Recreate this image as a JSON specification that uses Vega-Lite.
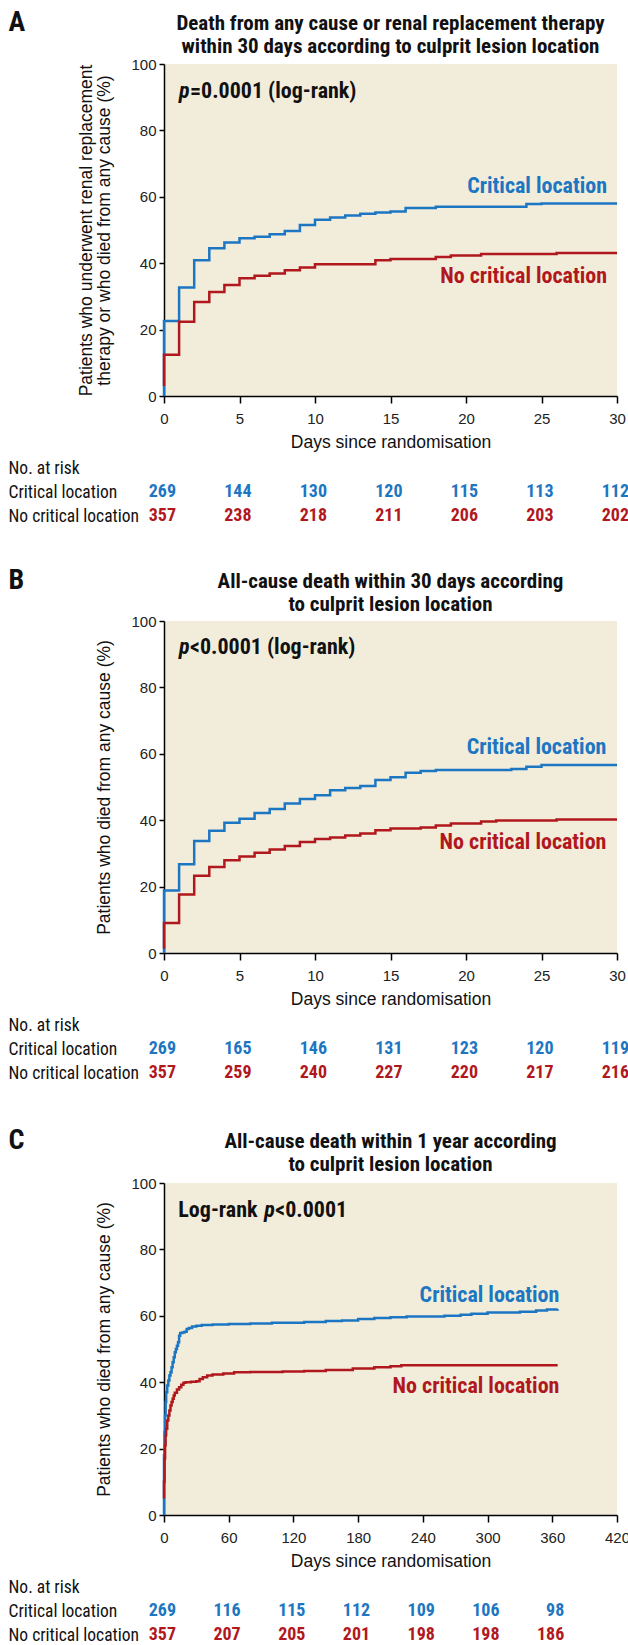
{
  "$schema": "https://vega.github.io/schema/vega-lite/v6.json",
  "background": "white",
  "padding": {"left": 8, "top": 8, "right": 0, "bottom": 0},
  "autosize": {"type": "pad"},
  "bounds": "flush",
  "spacing": 77,
  "config": {
    "font": "Liberation Sans",
    "view": {"stroke": null},
    "axis": {"grid": false}
  },
  "datasets": {
    "kmA": [
      {"group": "Critical location", "day": 0, "pct": 0},
      {"group": "Critical location", "day": 0, "pct": 22.6},
      {"group": "Critical location", "day": 1, "pct": 32.7},
      {"group": "Critical location", "day": 2, "pct": 40.9},
      {"group": "Critical location", "day": 3, "pct": 44.5},
      {"group": "Critical location", "day": 4, "pct": 46.2},
      {"group": "Critical location", "day": 5, "pct": 47.5},
      {"group": "Critical location", "day": 6, "pct": 48.0},
      {"group": "Critical location", "day": 7, "pct": 48.7},
      {"group": "Critical location", "day": 8, "pct": 49.7},
      {"group": "Critical location", "day": 9, "pct": 51.5},
      {"group": "Critical location", "day": 10, "pct": 53.1},
      {"group": "Critical location", "day": 11, "pct": 53.8},
      {"group": "Critical location", "day": 12, "pct": 54.4},
      {"group": "Critical location", "day": 13, "pct": 54.9},
      {"group": "Critical location", "day": 14, "pct": 55.3},
      {"group": "Critical location", "day": 15, "pct": 55.6},
      {"group": "Critical location", "day": 16, "pct": 56.6},
      {"group": "Critical location", "day": 18, "pct": 57.0},
      {"group": "Critical location", "day": 24, "pct": 57.8},
      {"group": "Critical location", "day": 25, "pct": 58.0},
      {"group": "Critical location", "day": 30, "pct": 58.0},
      {"group": "No critical location", "day": 0, "pct": 3.0},
      {"group": "No critical location", "day": 0, "pct": 12.4},
      {"group": "No critical location", "day": 1, "pct": 22.4},
      {"group": "No critical location", "day": 2, "pct": 28.3},
      {"group": "No critical location", "day": 3, "pct": 31.3},
      {"group": "No critical location", "day": 4, "pct": 33.4},
      {"group": "No critical location", "day": 5, "pct": 35.5},
      {"group": "No critical location", "day": 6, "pct": 36.2},
      {"group": "No critical location", "day": 7, "pct": 36.9},
      {"group": "No critical location", "day": 8, "pct": 37.9},
      {"group": "No critical location", "day": 9, "pct": 38.7},
      {"group": "No critical location", "day": 10, "pct": 39.7},
      {"group": "No critical location", "day": 14, "pct": 40.9},
      {"group": "No critical location", "day": 15, "pct": 41.3},
      {"group": "No critical location", "day": 18, "pct": 41.9},
      {"group": "No critical location", "day": 19, "pct": 42.3},
      {"group": "No critical location", "day": 21, "pct": 42.8},
      {"group": "No critical location", "day": 26, "pct": 43.1},
      {"group": "No critical location", "day": 30, "pct": 43.1}
    ],
    "kmB": [
      {"group": "Critical location", "day": 0, "pct": 0},
      {"group": "Critical location", "day": 0, "pct": 18.8},
      {"group": "Critical location", "day": 1, "pct": 26.7},
      {"group": "Critical location", "day": 2, "pct": 33.7},
      {"group": "Critical location", "day": 3, "pct": 36.8},
      {"group": "Critical location", "day": 4, "pct": 39.2},
      {"group": "Critical location", "day": 5, "pct": 40.4},
      {"group": "Critical location", "day": 6, "pct": 42.2},
      {"group": "Critical location", "day": 7, "pct": 43.4},
      {"group": "Critical location", "day": 8, "pct": 45.0},
      {"group": "Critical location", "day": 9, "pct": 46.4},
      {"group": "Critical location", "day": 10, "pct": 47.5},
      {"group": "Critical location", "day": 11, "pct": 49.0},
      {"group": "Critical location", "day": 12, "pct": 49.7},
      {"group": "Critical location", "day": 13, "pct": 50.3},
      {"group": "Critical location", "day": 14, "pct": 52.1},
      {"group": "Critical location", "day": 15, "pct": 52.9},
      {"group": "Critical location", "day": 16, "pct": 54.3},
      {"group": "Critical location", "day": 17, "pct": 54.8},
      {"group": "Critical location", "day": 18, "pct": 55.1},
      {"group": "Critical location", "day": 23, "pct": 55.4},
      {"group": "Critical location", "day": 24, "pct": 56.1},
      {"group": "Critical location", "day": 25, "pct": 56.6},
      {"group": "Critical location", "day": 30, "pct": 56.6},
      {"group": "No critical location", "day": 0, "pct": 1.3},
      {"group": "No critical location", "day": 0, "pct": 9.0},
      {"group": "No critical location", "day": 1, "pct": 17.6},
      {"group": "No critical location", "day": 2, "pct": 23.3},
      {"group": "No critical location", "day": 3, "pct": 25.9},
      {"group": "No critical location", "day": 4, "pct": 27.9},
      {"group": "No critical location", "day": 5, "pct": 29.1},
      {"group": "No critical location", "day": 6, "pct": 30.2},
      {"group": "No critical location", "day": 7, "pct": 31.2},
      {"group": "No critical location", "day": 8, "pct": 32.2},
      {"group": "No critical location", "day": 9, "pct": 33.4},
      {"group": "No critical location", "day": 10, "pct": 34.3},
      {"group": "No critical location", "day": 11, "pct": 34.8},
      {"group": "No critical location", "day": 12, "pct": 35.4},
      {"group": "No critical location", "day": 13, "pct": 36.0},
      {"group": "No critical location", "day": 14, "pct": 37.0},
      {"group": "No critical location", "day": 15, "pct": 37.5},
      {"group": "No critical location", "day": 17, "pct": 37.8},
      {"group": "No critical location", "day": 18, "pct": 38.4},
      {"group": "No critical location", "day": 19, "pct": 39.0},
      {"group": "No critical location", "day": 21, "pct": 39.6},
      {"group": "No critical location", "day": 22, "pct": 39.9},
      {"group": "No critical location", "day": 26, "pct": 40.2},
      {"group": "No critical location", "day": 30, "pct": 40.2}
    ],
    "kmC": [
      {"group": "Critical location", "day": 0, "pct": 0},
      {"group": "Critical location", "day": 0, "pct": 18},
      {"group": "Critical location", "day": 0.5, "pct": 25},
      {"group": "Critical location", "day": 1, "pct": 30},
      {"group": "Critical location", "day": 1.5, "pct": 34},
      {"group": "Critical location", "day": 2, "pct": 37},
      {"group": "Critical location", "day": 3, "pct": 39},
      {"group": "Critical location", "day": 4, "pct": 40.5},
      {"group": "Critical location", "day": 5, "pct": 42},
      {"group": "Critical location", "day": 6, "pct": 43},
      {"group": "Critical location", "day": 7, "pct": 44.5},
      {"group": "Critical location", "day": 8, "pct": 46},
      {"group": "Critical location", "day": 9, "pct": 47.5},
      {"group": "Critical location", "day": 10, "pct": 49},
      {"group": "Critical location", "day": 11, "pct": 50},
      {"group": "Critical location", "day": 12, "pct": 51},
      {"group": "Critical location", "day": 13, "pct": 52},
      {"group": "Critical location", "day": 14, "pct": 54},
      {"group": "Critical location", "day": 15, "pct": 54.8},
      {"group": "Critical location", "day": 17, "pct": 55},
      {"group": "Critical location", "day": 19, "pct": 55.2},
      {"group": "Critical location", "day": 21, "pct": 56},
      {"group": "Critical location", "day": 23, "pct": 56.3},
      {"group": "Critical location", "day": 26, "pct": 56.8},
      {"group": "Critical location", "day": 30, "pct": 57},
      {"group": "Critical location", "day": 35, "pct": 57.2},
      {"group": "Critical location", "day": 45, "pct": 57.4},
      {"group": "Critical location", "day": 60, "pct": 57.5},
      {"group": "Critical location", "day": 80, "pct": 57.7},
      {"group": "Critical location", "day": 100, "pct": 57.9},
      {"group": "Critical location", "day": 130, "pct": 58.1},
      {"group": "Critical location", "day": 150, "pct": 58.4},
      {"group": "Critical location", "day": 165, "pct": 58.6},
      {"group": "Critical location", "day": 180, "pct": 59.0},
      {"group": "Critical location", "day": 195, "pct": 59.3},
      {"group": "Critical location", "day": 210, "pct": 59.6},
      {"group": "Critical location", "day": 225, "pct": 59.8},
      {"group": "Critical location", "day": 260, "pct": 60.0},
      {"group": "Critical location", "day": 275, "pct": 60.3},
      {"group": "Critical location", "day": 285, "pct": 60.6},
      {"group": "Critical location", "day": 300, "pct": 61.0},
      {"group": "Critical location", "day": 330, "pct": 61.2},
      {"group": "Critical location", "day": 345, "pct": 61.6},
      {"group": "Critical location", "day": 355, "pct": 61.9},
      {"group": "Critical location", "day": 365, "pct": 62.0},
      {"group": "No critical location", "day": 0, "pct": 5},
      {"group": "No critical location", "day": 0, "pct": 10},
      {"group": "No critical location", "day": 0.5, "pct": 17},
      {"group": "No critical location", "day": 1, "pct": 21},
      {"group": "No critical location", "day": 1.5, "pct": 24},
      {"group": "No critical location", "day": 2, "pct": 26},
      {"group": "No critical location", "day": 3, "pct": 28.5},
      {"group": "No critical location", "day": 4, "pct": 30},
      {"group": "No critical location", "day": 5, "pct": 31.5},
      {"group": "No critical location", "day": 6, "pct": 33},
      {"group": "No critical location", "day": 7, "pct": 34},
      {"group": "No critical location", "day": 8, "pct": 35},
      {"group": "No critical location", "day": 9, "pct": 36},
      {"group": "No critical location", "day": 10, "pct": 36.8},
      {"group": "No critical location", "day": 12, "pct": 37.8},
      {"group": "No critical location", "day": 14, "pct": 38.5},
      {"group": "No critical location", "day": 16, "pct": 39.2},
      {"group": "No critical location", "day": 18, "pct": 39.8},
      {"group": "No critical location", "day": 20, "pct": 40},
      {"group": "No critical location", "day": 25, "pct": 40.1},
      {"group": "No critical location", "day": 30, "pct": 40.3},
      {"group": "No critical location", "day": 33, "pct": 41},
      {"group": "No critical location", "day": 36, "pct": 41.5},
      {"group": "No critical location", "day": 40, "pct": 42},
      {"group": "No critical location", "day": 45, "pct": 42.3},
      {"group": "No critical location", "day": 55, "pct": 42.6},
      {"group": "No critical location", "day": 65, "pct": 43},
      {"group": "No critical location", "day": 80, "pct": 43.1},
      {"group": "No critical location", "day": 110, "pct": 43.2},
      {"group": "No critical location", "day": 130, "pct": 43.4},
      {"group": "No critical location", "day": 150, "pct": 43.7},
      {"group": "No critical location", "day": 175, "pct": 44.1},
      {"group": "No critical location", "day": 195, "pct": 44.5},
      {"group": "No critical location", "day": 210, "pct": 44.8},
      {"group": "No critical location", "day": 220, "pct": 45.1},
      {"group": "No critical location", "day": 365, "pct": 45.1}
    ],
    "riskA": [
      {"row": "Critical location", "day": 0, "n": 269},
      {"row": "Critical location", "day": 5, "n": 144},
      {"row": "Critical location", "day": 10, "n": 130},
      {"row": "Critical location", "day": 15, "n": 120},
      {"row": "Critical location", "day": 20, "n": 115},
      {"row": "Critical location", "day": 25, "n": 113},
      {"row": "Critical location", "day": 30, "n": 112},
      {"row": "No critical location", "day": 0, "n": 357},
      {"row": "No critical location", "day": 5, "n": 238},
      {"row": "No critical location", "day": 10, "n": 218},
      {"row": "No critical location", "day": 15, "n": 211},
      {"row": "No critical location", "day": 20, "n": 206},
      {"row": "No critical location", "day": 25, "n": 203},
      {"row": "No critical location", "day": 30, "n": 202}
    ],
    "riskB": [
      {"row": "Critical location", "day": 0, "n": 269},
      {"row": "Critical location", "day": 5, "n": 165},
      {"row": "Critical location", "day": 10, "n": 146},
      {"row": "Critical location", "day": 15, "n": 131},
      {"row": "Critical location", "day": 20, "n": 123},
      {"row": "Critical location", "day": 25, "n": 120},
      {"row": "Critical location", "day": 30, "n": 119},
      {"row": "No critical location", "day": 0, "n": 357},
      {"row": "No critical location", "day": 5, "n": 259},
      {"row": "No critical location", "day": 10, "n": 240},
      {"row": "No critical location", "day": 15, "n": 227},
      {"row": "No critical location", "day": 20, "n": 220},
      {"row": "No critical location", "day": 25, "n": 217},
      {"row": "No critical location", "day": 30, "n": 216}
    ],
    "riskC": [
      {"row": "Critical location", "day": 0, "n": 269},
      {"row": "Critical location", "day": 60, "n": 116},
      {"row": "Critical location", "day": 120, "n": 115},
      {"row": "Critical location", "day": 180, "n": 112},
      {"row": "Critical location", "day": 240, "n": 109},
      {"row": "Critical location", "day": 300, "n": 106},
      {"row": "Critical location", "day": 360, "n": 98},
      {"row": "No critical location", "day": 0, "n": 357},
      {"row": "No critical location", "day": 60, "n": 207},
      {"row": "No critical location", "day": 120, "n": 205},
      {"row": "No critical location", "day": 180, "n": 201},
      {"row": "No critical location", "day": 240, "n": 198},
      {"row": "No critical location", "day": 300, "n": 198},
      {"row": "No critical location", "day": 360, "n": 186}
    ]
  },
  "vconcat": [
    {
      "width": 453, "height": 332,
      "view": {"fill": "#f2eddb", "stroke": null},
      "title": {"text": ["Death from any cause or renal replacement therapy", "within 30 days according to culprit lesion location"], "anchor": "middle", "frame": "group", "font": "Liberation Sans Narrow, Roboto Condensed, DejaVu Sans Condensed, sans-serif", "fontSize": 21, "fontWeight": "bold", "lineHeight": 23, "color": "#111111", "offset": -49},
      "resolve": {"axis": {"x": "independent", "y": "independent"}},
      "layer": [
        {
          "data": {"name": "kmA"},
          "mark": {"type": "line", "interpolate": "step-after", "strokeWidth": 2.5, "strokeJoin": "miter", "strokeCap": "butt"},
          "encoding": {
            "x": {"field": "day", "type": "quantitative", "scale": {"domain": [0, 30], "nice": false},
              "axis": {"title": "Days since randomisation", "values": [0, 5, 10, 15, 20, 25, 30], "labelFlush": false, "labelOverlap": false, "domainColor": "#000000", "domainWidth": 1.5, "tickColor": "#000000", "tickWidth": 1.5, "tickSize": 7, "labelPadding": 8, "labelFont": "Liberation Sans", "labelFontSize": 15, "labelColor": "#222222", "titleFont": "Liberation Sans", "titleFontSize": 17.5, "titleFontWeight": "normal", "titleColor": "#111111", "titlePadding": 7}},
            "y": {"field": "pct", "type": "quantitative", "scale": {"domain": [0, 100], "nice": false},
              "axis": {"title": ["Patients who underwent renal replacement", "therapy or who died from any cause (%)"], "values": [0, 20, 40, 60, 80, 100], "domainColor": "#000000", "domainWidth": 1.5, "tickColor": "#000000", "tickWidth": 1.5, "tickSize": 5, "labelPadding": 3, "labelFont": "Liberation Sans", "labelFontSize": 15, "labelColor": "#222222", "titleFont": "Liberation Sans", "titleFontSize": 17.5, "titleFontWeight": "normal", "titleColor": "#111111", "titlePadding": 17, "titleLineHeight": 18}},
            "color": {"field": "group", "type": "nominal", "scale": {"domain": ["Critical location", "No critical location"], "range": ["#1d76c2", "#b1181d"]}, "legend": null}
          }
        },
        {
          "data": {"values": [{}]},
          "mark": {"type": "text", "align": "left", "baseline": "alphabetic", "font": "Liberation Sans Narrow, Roboto Condensed, DejaVu Sans Condensed, sans-serif", "fontSize": 22, "fontWeight": "bold", "fontStyle": "italic", "color": "#111111"},
          "encoding": {
            "x": {"datum": 0.99, "type": "quantitative", "axis": {"orient": "top", "title": "A", "labels": false, "ticks": false, "domain": false, "grid": false, "titleX": -156, "titleY": -34, "titleAlign": "left", "titleBaseline": "alphabetic", "titleAngle": 0, "titleFont": "Liberation Sans Narrow, Roboto Condensed, DejaVu Sans Condensed, sans-serif", "titleFontSize": 28, "titleFontWeight": "bold", "titleColor": "#111111"}},
            "y": {"datum": 89.8, "type": "quantitative", "axis": null},
            "text": {"value": "p"}
          }
        },
        {
          "data": {"values": [{}]},
          "mark": {"type": "text", "align": "left", "baseline": "alphabetic", "dx": 11, "font": "Liberation Sans Narrow, Roboto Condensed, DejaVu Sans Condensed, sans-serif", "fontSize": 22, "fontWeight": "bold", "color": "#111111"},
          "encoding": {
            "x": {"datum": 0.99, "type": "quantitative", "axis": null},
            "y": {"datum": 89.8, "type": "quantitative", "axis": null},
            "text": {"value": "=0.0001 (log-rank)"}
          }
        },
        {
          "data": {"values": [{}]},
          "mark": {"type": "text", "align": "right", "baseline": "alphabetic", "font": "Liberation Sans Narrow, Roboto Condensed, DejaVu Sans Condensed, sans-serif", "fontSize": 22, "fontWeight": "bold", "color": "#1d76c2"},
          "encoding": {
            "x": {"datum": 29.34, "type": "quantitative", "axis": null},
            "y": {"datum": 61.1, "type": "quantitative", "axis": null},
            "text": {"value": "Critical location"}
          }
        },
        {
          "data": {"values": [{}]},
          "mark": {"type": "text", "align": "right", "baseline": "alphabetic", "font": "Liberation Sans Narrow, Roboto Condensed, DejaVu Sans Condensed, sans-serif", "fontSize": 22, "fontWeight": "bold", "color": "#b1181d"},
          "encoding": {
            "x": {"datum": 29.34, "type": "quantitative", "axis": null},
            "y": {"datum": 34.0, "type": "quantitative", "axis": null},
            "text": {"value": "No critical location"}
          }
        }
      ]
    },
    {
      "width": 453, "height": 71,
      "data": {"name": "riskA"},
      "mark": {"type": "text", "align": "right", "dx": 12, "baseline": "alphabetic", "font": "Liberation Sans Narrow, Roboto Condensed, DejaVu Sans Condensed, sans-serif", "fontSize": 18, "fontWeight": "bold"},
      "encoding": {
        "x": {"field": "day", "type": "quantitative", "scale": {"domain": [0, 30], "nice": false}, "axis": null},
        "y": {"field": "row", "type": "nominal", "scale": {"type": "point", "domain": ["No. at risk", "Critical location", "No critical location"], "range": [0, 48], "padding": 0},
          "axis": {"title": null, "domain": false, "ticks": false, "tickSize": 0, "grid": false, "labelAlign": "left", "labelBaseline": "alphabetic", "labelPadding": 156, "labelFont": "Liberation Sans Narrow, Roboto Condensed, DejaVu Sans Condensed, sans-serif", "labelFontSize": 17.5, "labelColor": "#111111", "labelLimit": 200}},
        "color": {"field": "row", "type": "nominal", "scale": {"domain": ["Critical location", "No critical location"], "range": ["#1d76c2", "#b1181d"]}, "legend": null},
        "text": {"field": "n", "type": "quantitative"}
      }
    },
    {
      "width": 453, "height": 332,
      "view": {"fill": "#f2eddb", "stroke": null},
      "title": {"text": ["All-cause death within 30 days according", "to culprit lesion location"], "anchor": "middle", "frame": "group", "font": "Liberation Sans Narrow, Roboto Condensed, DejaVu Sans Condensed, sans-serif", "fontSize": 21, "fontWeight": "bold", "lineHeight": 23, "color": "#111111", "offset": -49},
      "resolve": {"axis": {"x": "independent", "y": "independent"}},
      "layer": [
        {
          "data": {"name": "kmB"},
          "mark": {"type": "line", "interpolate": "step-after", "strokeWidth": 2.5, "strokeJoin": "miter", "strokeCap": "butt"},
          "encoding": {
            "x": {"field": "day", "type": "quantitative", "scale": {"domain": [0, 30], "nice": false},
              "axis": {"title": "Days since randomisation", "values": [0, 5, 10, 15, 20, 25, 30], "labelFlush": false, "labelOverlap": false, "domainColor": "#000000", "domainWidth": 1.5, "tickColor": "#000000", "tickWidth": 1.5, "tickSize": 7, "labelPadding": 8, "labelFont": "Liberation Sans", "labelFontSize": 15, "labelColor": "#222222", "titleFont": "Liberation Sans", "titleFontSize": 17.5, "titleFontWeight": "normal", "titleColor": "#111111", "titlePadding": 7}},
            "y": {"field": "pct", "type": "quantitative", "scale": {"domain": [0, 100], "nice": false},
              "axis": {"title": "Patients who died from any cause (%)", "values": [0, 20, 40, 60, 80, 100], "domainColor": "#000000", "domainWidth": 1.5, "tickColor": "#000000", "tickWidth": 1.5, "tickSize": 5, "labelPadding": 3, "labelFont": "Liberation Sans", "labelFontSize": 15, "labelColor": "#222222", "titleFont": "Liberation Sans", "titleFontSize": 17.5, "titleFontWeight": "normal", "titleColor": "#111111", "titlePadding": 17}},
            "color": {"field": "group", "type": "nominal", "scale": {"domain": ["Critical location", "No critical location"], "range": ["#1d76c2", "#b1181d"]}, "legend": null}
          }
        },
        {
          "data": {"values": [{}]},
          "mark": {"type": "text", "align": "left", "baseline": "alphabetic", "font": "Liberation Sans Narrow, Roboto Condensed, DejaVu Sans Condensed, sans-serif", "fontSize": 22, "fontWeight": "bold", "fontStyle": "italic", "color": "#111111"},
          "encoding": {
            "x": {"datum": 1.0, "type": "quantitative", "axis": {"orient": "top", "title": "B", "labels": false, "ticks": false, "domain": false, "grid": false, "titleX": -156, "titleY": -33, "titleAlign": "left", "titleBaseline": "alphabetic", "titleAngle": 0, "titleFont": "Liberation Sans Narrow, Roboto Condensed, DejaVu Sans Condensed, sans-serif", "titleFontSize": 28, "titleFontWeight": "bold", "titleColor": "#111111"}},
            "y": {"datum": 90.0, "type": "quantitative", "axis": null},
            "text": {"value": "p"}
          }
        },
        {
          "data": {"values": [{}]},
          "mark": {"type": "text", "align": "left", "baseline": "alphabetic", "dx": 11, "font": "Liberation Sans Narrow, Roboto Condensed, DejaVu Sans Condensed, sans-serif", "fontSize": 22, "fontWeight": "bold", "color": "#111111"},
          "encoding": {
            "x": {"datum": 1.0, "type": "quantitative", "axis": null},
            "y": {"datum": 90.0, "type": "quantitative", "axis": null},
            "text": {"value": "<0.0001 (log-rank)"}
          }
        },
        {
          "data": {"values": [{}]},
          "mark": {"type": "text", "align": "right", "baseline": "alphabetic", "font": "Liberation Sans Narrow, Roboto Condensed, DejaVu Sans Condensed, sans-serif", "fontSize": 22, "fontWeight": "bold", "color": "#1d76c2"},
          "encoding": {
            "x": {"datum": 29.3, "type": "quantitative", "axis": null},
            "y": {"datum": 59.8, "type": "quantitative", "axis": null},
            "text": {"value": "Critical location"}
          }
        },
        {
          "data": {"values": [{}]},
          "mark": {"type": "text", "align": "right", "baseline": "alphabetic", "font": "Liberation Sans Narrow, Roboto Condensed, DejaVu Sans Condensed, sans-serif", "fontSize": 22, "fontWeight": "bold", "color": "#b1181d"},
          "encoding": {
            "x": {"datum": 29.3, "type": "quantitative", "axis": null},
            "y": {"datum": 31.4, "type": "quantitative", "axis": null},
            "text": {"value": "No critical location"}
          }
        }
      ]
    },
    {
      "width": 453, "height": 76,
      "data": {"name": "riskB"},
      "mark": {"type": "text", "align": "right", "dx": 12, "baseline": "alphabetic", "font": "Liberation Sans Narrow, Roboto Condensed, DejaVu Sans Condensed, sans-serif", "fontSize": 18, "fontWeight": "bold"},
      "encoding": {
        "x": {"field": "day", "type": "quantitative", "scale": {"domain": [0, 30], "nice": false}, "axis": null},
        "y": {"field": "row", "type": "nominal", "scale": {"type": "point", "domain": ["No. at risk", "Critical location", "No critical location"], "range": [0, 48], "padding": 0},
          "axis": {"title": null, "domain": false, "ticks": false, "tickSize": 0, "grid": false, "labelAlign": "left", "labelBaseline": "alphabetic", "labelPadding": 156, "labelFont": "Liberation Sans Narrow, Roboto Condensed, DejaVu Sans Condensed, sans-serif", "labelFontSize": 17.5, "labelColor": "#111111", "labelLimit": 200}},
        "color": {"field": "row", "type": "nominal", "scale": {"domain": ["Critical location", "No critical location"], "range": ["#1d76c2", "#b1181d"]}, "legend": null},
        "text": {"field": "n", "type": "quantitative"}
      }
    },
    {
      "width": 453, "height": 332,
      "view": {"fill": "#f2eddb", "stroke": null},
      "title": {"text": ["All-cause death within 1 year according", "to culprit lesion location"], "anchor": "middle", "frame": "group", "font": "Liberation Sans Narrow, Roboto Condensed, DejaVu Sans Condensed, sans-serif", "fontSize": 21, "fontWeight": "bold", "lineHeight": 23, "color": "#111111", "offset": -49},
      "resolve": {"axis": {"x": "independent", "y": "independent"}},
      "layer": [
        {
          "data": {"name": "kmC"},
          "mark": {"type": "line", "interpolate": "step-after", "strokeWidth": 2.5, "strokeJoin": "miter", "strokeCap": "butt"},
          "encoding": {
            "x": {"field": "day", "type": "quantitative", "scale": {"domain": [0, 420], "nice": false},
              "axis": {"title": "Days since randomisation", "values": [0, 60, 120, 180, 240, 300, 360, 420], "labelFlush": false, "labelOverlap": false, "domainColor": "#000000", "domainWidth": 1.5, "tickColor": "#000000", "tickWidth": 1.5, "tickSize": 7, "labelPadding": 8, "labelFont": "Liberation Sans", "labelFontSize": 15, "labelColor": "#222222", "titleFont": "Liberation Sans", "titleFontSize": 17.5, "titleFontWeight": "normal", "titleColor": "#111111", "titlePadding": 7}},
            "y": {"field": "pct", "type": "quantitative", "scale": {"domain": [0, 100], "nice": false},
              "axis": {"title": "Patients who died from any cause (%)", "values": [0, 20, 40, 60, 80, 100], "domainColor": "#000000", "domainWidth": 1.5, "tickColor": "#000000", "tickWidth": 1.5, "tickSize": 5, "labelPadding": 3, "labelFont": "Liberation Sans", "labelFontSize": 15, "labelColor": "#222222", "titleFont": "Liberation Sans", "titleFontSize": 17.5, "titleFontWeight": "normal", "titleColor": "#111111", "titlePadding": 17}},
            "color": {"field": "group", "type": "nominal", "scale": {"domain": ["Critical location", "No critical location"], "range": ["#1d76c2", "#b1181d"]}, "legend": null}
          }
        },
        {
          "data": {"values": [{}]},
          "mark": {"type": "text", "align": "left", "baseline": "alphabetic", "font": "Liberation Sans Narrow, Roboto Condensed, DejaVu Sans Condensed, sans-serif", "fontSize": 22, "fontWeight": "bold", "color": "#111111"},
          "encoding": {
            "x": {"datum": 13.3, "type": "quantitative", "axis": {"orient": "top", "title": "C", "labels": false, "ticks": false, "domain": false, "grid": false, "titleX": -156, "titleY": -35, "titleAlign": "left", "titleBaseline": "alphabetic", "titleAngle": 0, "titleFont": "Liberation Sans Narrow, Roboto Condensed, DejaVu Sans Condensed, sans-serif", "titleFontSize": 28, "titleFontWeight": "bold", "titleColor": "#111111"}},
            "y": {"datum": 89.8, "type": "quantitative", "axis": null},
            "text": {"value": "Log-rank"}
          }
        },
        {
          "data": {"values": [{}]},
          "mark": {"type": "text", "align": "left", "baseline": "alphabetic", "dx": 86, "font": "Liberation Sans Narrow, Roboto Condensed, DejaVu Sans Condensed, sans-serif", "fontSize": 22, "fontWeight": "bold", "fontStyle": "italic", "color": "#111111"},
          "encoding": {
            "x": {"datum": 13.3, "type": "quantitative", "axis": null},
            "y": {"datum": 89.8, "type": "quantitative", "axis": null},
            "text": {"value": "p"}
          }
        },
        {
          "data": {"values": [{}]},
          "mark": {"type": "text", "align": "left", "baseline": "alphabetic", "dx": 97, "font": "Liberation Sans Narrow, Roboto Condensed, DejaVu Sans Condensed, sans-serif", "fontSize": 22, "fontWeight": "bold", "color": "#111111"},
          "encoding": {
            "x": {"datum": 13.3, "type": "quantitative", "axis": null},
            "y": {"datum": 89.8, "type": "quantitative", "axis": null},
            "text": {"value": "<0.0001"}
          }
        },
        {
          "data": {"values": [{}]},
          "mark": {"type": "text", "align": "right", "baseline": "alphabetic", "font": "Liberation Sans Narrow, Roboto Condensed, DejaVu Sans Condensed, sans-serif", "fontSize": 22, "fontWeight": "bold", "color": "#1d76c2"},
          "encoding": {
            "x": {"datum": 366.6, "type": "quantitative", "axis": null},
            "y": {"datum": 64.2, "type": "quantitative", "axis": null},
            "text": {"value": "Critical location"}
          }
        },
        {
          "data": {"values": [{}]},
          "mark": {"type": "text", "align": "right", "baseline": "alphabetic", "font": "Liberation Sans Narrow, Roboto Condensed, DejaVu Sans Condensed, sans-serif", "fontSize": 22, "fontWeight": "bold", "color": "#b1181d"},
          "encoding": {
            "x": {"datum": 366.6, "type": "quantitative", "axis": null},
            "y": {"datum": 36.8, "type": "quantitative", "axis": null},
            "text": {"value": "No critical location"}
          }
        }
      ]
    },
    {
      "width": 453, "height": 48,
      "data": {"name": "riskC"},
      "mark": {"type": "text", "align": "right", "dx": 12, "baseline": "alphabetic", "font": "Liberation Sans Narrow, Roboto Condensed, DejaVu Sans Condensed, sans-serif", "fontSize": 18, "fontWeight": "bold"},
      "encoding": {
        "x": {"field": "day", "type": "quantitative", "scale": {"domain": [0, 420], "nice": false}, "axis": null},
        "y": {"field": "row", "type": "nominal", "scale": {"type": "point", "domain": ["No. at risk", "Critical location", "No critical location"], "range": [0, 48], "padding": 0},
          "axis": {"title": null, "domain": false, "ticks": false, "tickSize": 0, "grid": false, "labelAlign": "left", "labelBaseline": "alphabetic", "labelPadding": 156, "labelFont": "Liberation Sans Narrow, Roboto Condensed, DejaVu Sans Condensed, sans-serif", "labelFontSize": 17.5, "labelColor": "#111111", "labelLimit": 200}},
        "color": {"field": "row", "type": "nominal", "scale": {"domain": ["Critical location", "No critical location"], "range": ["#1d76c2", "#b1181d"]}, "legend": null},
        "text": {"field": "n", "type": "quantitative"}
      }
    }
  ]
}
